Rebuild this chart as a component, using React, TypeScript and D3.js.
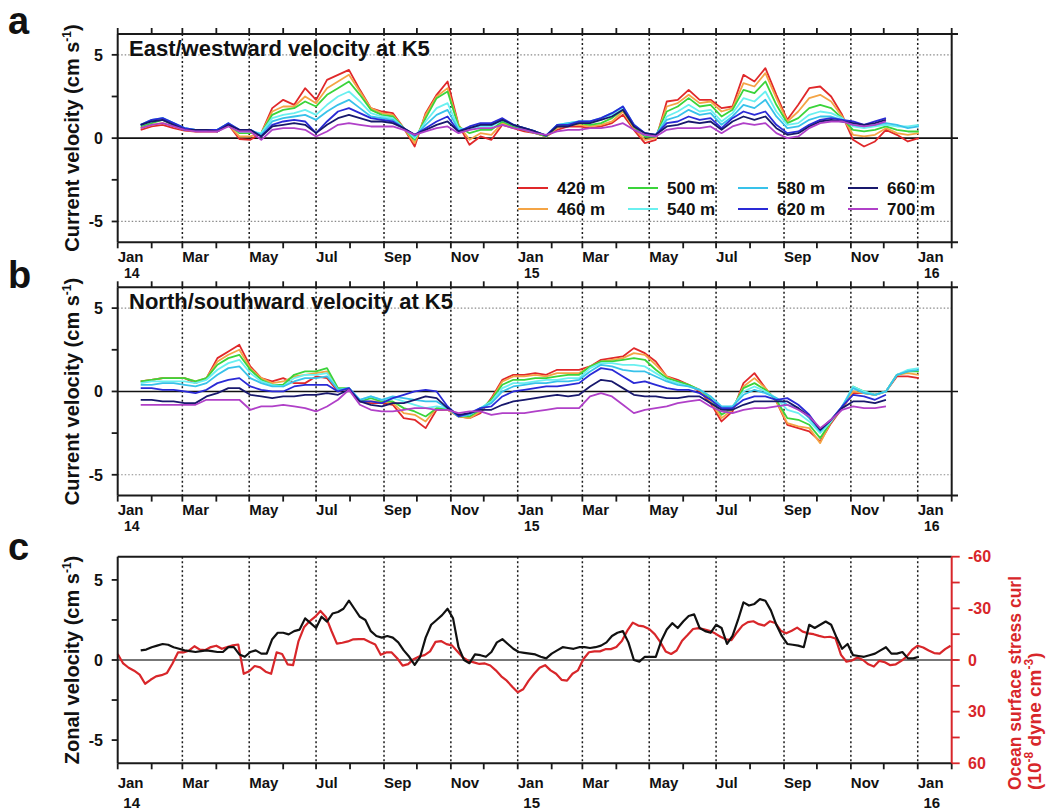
import React from "react";
import * as d3 from "d3";

// ---------- DATA ----------
const depths = ["420 m", "460 m", "500 m", "540 m", "580 m", "620 m", "660 m", "700 m"];
const depthColors = ["#e0282a", "#f4a445", "#3ad43a", "#6af0f0", "#38c2ea", "#2a2ad6", "#18186c", "#b040c8"];

// current-meter samples (panels a, b): every 10 days starting 2014-01-22 (72 samples)
const sampleStart = new Date(2014, 0, 22);
const sampleCount = 72;
// zonal velocity samples (panel c): every 5 days starting 2014-01-22 (143 samples)
const zonalStart = new Date(2014, 0, 22);
const zonalCount = 143;
// wind stress curl samples (panel c): every 5 days starting 2014-01-01 (153 samples)
const curlStart = new Date(2014, 0, 1);
const curlCount = 153;

const N = null;

// Panel a: east/westward velocity (cm/s)
const east420 = [0.5,0.7,0.8,0.6,0.45,0.4,0.4,0.4,0.8,-0.05,-0.1,0.3,1.8,2.3,2.0,3.0,2.3,3.5,3.8,4.1,2.9,1.8,1.6,1.5,0.6,-0.5,1.5,2.6,3.4,0.8,-0.4,0.1,-0.1,0.8,0.6,0.4,0.3,0.1,0.5,0.7,0.7,0.6,0.7,0.9,1.4,0.5,-0.3,-0.1,2.2,2.3,2.9,2.3,2.3,1.8,1.9,3.8,3.4,4.2,2.6,1.1,2.0,3.0,3.1,2.5,1.4,-0.1,-0.5,-0.2,0.5,0.2,-0.2,0.0];
const east460 = [0.6,0.8,0.9,0.7,0.5,0.4,0.45,0.45,0.8,0.1,0.1,0.3,1.6,1.9,1.9,2.5,2.1,3.0,3.4,3.8,2.8,1.8,1.5,1.4,0.6,-0.3,1.4,2.5,3.0,0.8,-0.1,0.3,0.2,0.9,0.7,0.5,0.3,0.1,0.6,0.8,0.8,0.7,0.8,1.0,1.6,0.6,-0.1,0.0,1.9,2.1,2.6,2.1,2.2,1.6,1.8,3.3,3.1,3.9,2.4,1.0,1.6,2.4,2.6,2.2,1.3,0.2,0.1,0.2,0.6,0.3,0.2,0.3];
const east500 = [0.7,0.9,1.1,0.8,0.5,0.5,0.5,0.5,0.85,0.3,0.3,0.3,1.4,1.7,1.8,2.2,1.9,2.6,3.0,3.4,2.6,1.7,1.4,1.3,0.6,-0.1,1.2,2.4,2.8,0.7,0.3,0.5,0.5,1.0,0.7,0.5,0.3,0.1,0.7,0.8,0.9,0.8,0.9,1.2,1.7,0.7,0.1,0.1,1.6,1.9,2.4,1.9,2.0,1.3,1.7,2.9,2.7,3.4,2.0,0.9,1.2,1.8,2.0,1.8,1.2,0.5,0.4,0.5,0.7,0.5,0.4,0.4];
const east540 = [0.8,1.0,1.2,0.9,0.6,0.5,0.5,0.5,0.9,0.4,0.4,0.3,1.2,1.4,1.5,1.7,1.4,2.0,2.5,2.8,2.2,1.5,1.3,1.2,0.6,0.0,1.0,1.8,2.1,0.6,0.5,0.7,0.7,1.1,0.8,0.6,0.4,0.15,0.8,0.9,1.0,1.0,1.1,1.4,1.8,0.8,0.2,0.1,1.3,1.6,2.0,1.6,1.7,1.0,1.5,2.4,2.2,2.8,1.6,0.8,0.9,1.4,1.6,1.5,1.2,0.7,0.6,0.7,0.8,0.7,0.7,0.8];
const east580 = [0.8,1.1,1.2,0.9,0.6,0.5,0.5,0.5,0.9,0.5,0.5,0.2,1.0,1.2,1.3,1.4,1.1,1.6,2.0,2.3,1.8,1.3,1.2,1.1,0.6,0.1,0.8,1.4,1.7,0.5,0.6,0.8,0.8,1.1,0.8,0.6,0.4,0.15,0.8,0.9,1.0,1.0,1.2,1.5,1.9,0.8,0.3,0.2,1.1,1.3,1.7,1.4,1.5,0.8,1.3,2.0,1.8,2.3,1.3,0.6,0.7,1.1,1.3,1.3,1.1,0.8,0.7,0.8,0.9,0.8,0.6,0.7];
const east620 = [0.8,1.1,1.2,0.9,0.6,0.5,0.5,0.5,0.9,0.5,0.5,0.1,0.8,1.0,1.1,1.0,0.3,1.0,1.6,1.8,1.5,1.2,1.1,1.0,0.6,0.2,0.6,1.0,1.3,0.4,0.7,0.9,0.9,1.2,0.8,0.6,0.4,0.15,0.8,0.8,1.0,1.0,1.2,1.5,1.9,0.8,0.3,0.2,0.9,1.0,1.3,1.1,1.2,0.6,1.2,1.6,1.4,1.6,0.8,0.3,0.4,0.8,1.1,1.2,1.1,1.0,0.8,1.0,1.2,N,N,N];
const east660 = [0.8,1.0,1.1,0.8,0.5,0.5,0.5,0.4,0.8,0.5,0.5,0.1,0.7,0.8,0.9,0.8,0.3,0.8,1.2,1.4,1.2,1.0,1.0,0.9,0.6,0.2,0.5,0.8,1.0,0.4,0.6,0.8,0.8,1.1,0.8,0.6,0.4,0.15,0.7,0.7,0.9,0.9,1.1,1.3,1.7,0.7,0.3,0.2,0.7,0.8,1.0,0.9,1.0,0.5,1.0,1.3,1.1,1.3,0.6,0.2,0.3,0.7,1.0,1.1,1.0,0.9,0.8,0.9,1.1,N,N,N];
const east700 = [0.6,0.8,0.9,0.7,0.5,0.4,0.4,0.4,0.7,0.4,0.4,-0.1,0.5,0.6,0.6,0.5,0.1,0.4,0.8,0.9,0.8,0.7,0.7,0.7,0.5,0.2,0.4,0.6,0.7,0.3,0.5,0.6,0.6,0.8,0.6,0.5,0.3,0.2,0.4,0.5,0.5,0.6,0.6,0.7,0.9,0.5,0.2,0.1,0.5,0.6,0.6,0.6,0.7,0.3,0.7,0.9,0.8,0.9,0.3,0.0,0.1,0.6,0.9,1.0,1.0,0.8,0.7,0.8,1.0,N,N,N];

// Panel b: north/southward velocity (cm/s)
const north420 = [0.6,0.7,0.8,0.8,0.8,0.5,0.8,2.0,2.4,2.8,1.5,0.8,0.6,0.8,0.5,0.5,0.9,0.8,0.0,0.2,-0.6,-0.7,-0.7,-0.8,-1.6,-1.7,-2.2,-1.1,-1.1,-1.5,-1.6,-1.3,-0.4,0.7,1.0,1.0,1.1,1.0,1.3,1.3,1.3,1.5,1.9,2.0,2.1,2.6,2.3,1.8,0.9,0.7,0.4,0.0,-0.7,-1.8,-1.2,0.5,1.1,0.2,-0.6,-2.0,-2.2,-2.4,-3.0,-1.9,-1.0,-0.1,-0.1,-0.2,0.0,0.9,0.9,0.8];
const north460 = [0.6,0.7,0.8,0.8,0.8,0.6,0.8,1.8,2.2,2.5,1.4,0.8,0.5,0.6,0.9,1.0,1.1,1.2,0.1,0.2,-0.6,-0.6,-0.6,-0.7,-1.3,-1.4,-1.8,-1.0,-1.1,-1.5,-1.6,-1.2,-0.5,0.6,0.9,0.9,1.0,0.9,1.1,1.1,1.1,1.5,1.8,1.9,2.0,2.3,2.2,1.6,0.9,0.6,0.4,0.1,-0.6,-1.6,-1.1,0.3,0.8,0.2,-0.6,-1.9,-2.1,-2.2,-3.1,-1.8,-1.0,0.0,-0.1,-0.2,0.0,1.0,1.1,1.0];
const north500 = [0.6,0.7,0.8,0.8,0.8,0.6,0.8,1.6,2.0,2.2,1.3,0.7,0.4,0.4,1.0,1.2,1.2,1.4,0.2,0.2,-0.6,-0.4,-0.6,-0.6,-1.0,-1.2,-1.5,-1.0,-1.0,-1.5,-1.5,-1.1,-0.5,0.4,0.7,0.7,0.8,0.8,0.9,1.0,1.0,1.5,1.8,1.8,1.9,2.0,1.9,1.3,0.8,0.6,0.4,0.1,-0.4,-1.4,-1.0,0.2,0.5,0.1,-0.5,-1.6,-1.7,-2.0,-2.8,-1.8,-1.0,0.3,0.0,-0.2,0.0,1.0,1.2,1.2];
const north540 = [0.5,0.6,0.6,0.6,0.6,0.5,0.7,1.3,1.7,1.9,1.1,0.6,0.4,0.3,0.8,1.0,1.0,1.1,0.1,0.2,-0.5,-0.3,-0.5,-0.4,-0.6,-0.8,-1.0,-0.9,-1.0,-1.5,-1.4,-1.0,-0.6,0.2,0.5,0.5,0.6,0.7,0.7,0.8,0.8,1.4,1.7,1.7,1.6,1.6,1.5,1.1,0.7,0.5,0.3,0.1,-0.3,-1.0,-0.9,0.0,0.3,0.0,-0.4,-1.1,-1.3,-1.8,-2.5,-1.8,-0.9,0.3,0.0,-0.2,0.0,1.0,1.3,1.4];
const north580 = [0.4,0.4,0.5,0.5,0.4,0.3,0.5,1.0,1.4,1.5,0.8,0.5,0.3,0.3,0.6,0.8,0.8,0.9,0.1,0.2,-0.5,-0.3,-0.5,-0.3,-0.4,-0.5,-0.6,-0.6,-1.0,-1.5,-1.4,-1.0,-0.7,0.0,0.3,0.4,0.5,0.5,0.6,0.6,0.7,1.2,1.6,1.5,1.3,1.2,1.2,0.9,0.6,0.4,0.3,0.1,-0.3,-0.9,-0.9,-0.2,0.1,-0.1,-0.4,-0.8,-1.0,-1.6,-2.4,-1.7,-0.9,0.2,-0.1,-0.2,0.0,1.0,1.2,1.3];
const north620 = [0.2,0.2,0.1,0.1,0.0,-0.1,0.1,0.5,0.7,0.8,0.3,0.1,0.0,0.0,0.3,0.4,0.4,0.4,0.0,0.2,-0.6,-0.6,-0.7,-0.4,-0.2,0.0,0.1,0.0,-0.9,-1.5,-1.3,-1.0,-0.9,-0.3,0.0,0.1,0.2,0.3,0.3,0.4,0.5,1.0,1.4,1.3,0.9,0.5,0.6,0.4,0.2,0.1,0.1,-0.1,-0.5,-1.0,-1.0,-0.5,-0.3,-0.3,-0.5,-0.4,-0.8,-1.4,-2.3,-1.7,-0.9,-0.2,-0.3,-0.5,-0.2,N,N,N];
const north660 = [-0.5,-0.5,-0.6,-0.6,-0.7,-0.7,-0.3,-0.1,0.2,0.2,-0.2,-0.3,-0.4,-0.3,-0.3,-0.2,-0.2,-0.1,-0.2,0.1,-0.6,-0.8,-0.9,-0.7,-0.7,-0.5,-0.3,-0.4,-1.0,-1.4,-1.3,-1.1,-1.1,-0.8,-0.6,-0.5,-0.4,-0.3,-0.2,-0.3,-0.2,0.3,0.7,0.6,0.2,-0.2,-0.3,-0.3,-0.4,-0.4,-0.3,-0.3,-0.7,-1.1,-1.1,-0.8,-0.6,-0.6,-0.6,-0.6,-1.0,-1.5,-2.3,-1.7,-1.0,-0.6,-0.6,-0.7,-0.5,N,N,N];
const north700 = [-0.8,-0.8,-0.8,-0.8,-0.8,-0.8,-0.5,-0.5,-0.5,-0.5,-1.1,-0.9,-0.9,-0.8,-0.9,-1.0,-1.2,-0.9,-0.5,0.1,-0.8,-1.1,-1.2,-1.2,-1.1,-1.0,-1.0,-1.1,-1.1,-1.3,-1.2,-1.2,-1.4,-1.3,-1.3,-1.3,-1.2,-1.1,-1.0,-1.0,-1.0,-0.3,-0.1,-0.3,-0.8,-1.3,-1.1,-1.0,-0.9,-0.7,-0.6,-0.5,-0.9,-1.2,-1.3,-1.1,-1.0,-1.0,-0.9,-0.8,-1.1,-1.5,-2.2,-1.7,-1.1,-0.9,-1.0,-1.0,-0.9,N,N,N];

// Panel c: zonal velocity (cm/s, black)
const zonalVelocity = [
  0.6,0.65,0.8,0.9,1.0,0.95,0.8,0.7,0.6,0.55,
  0.5,0.55,0.6,0.55,0.5,0.5,0.8,0.8,0.35,0.2,
  0.5,0.6,0.4,0.4,1.3,1.7,1.7,1.6,1.8,1.9,
  2.6,2.3,2.0,2.7,2.4,2.9,3.0,3.2,3.7,3.2,
  2.7,2.5,1.8,1.5,1.4,1.5,1.4,1.1,0.6,0.2,
  -0.3,0.2,1.4,2.2,2.5,2.8,3.2,2.6,0.8,0.0,
  -0.2,0.35,0.3,0.2,0.5,1.1,1.3,1.0,0.7,0.5,
  0.45,0.4,0.35,0.2,0.1,0.4,0.6,0.8,0.75,0.7,
  0.8,0.8,0.75,0.8,0.9,1.1,1.5,1.7,1.8,1.1,
  0.0,-0.1,0.2,0.2,0.2,1.2,1.9,2.3,2.0,2.4,
  2.75,2.85,2.0,1.8,1.7,2.2,2.0,1.0,1.5,2.5,
  3.6,3.4,3.5,3.8,3.7,3.1,2.2,1.5,1.0,0.95,
  0.9,0.8,2.2,2.0,2.2,2.4,2.2,1.4,0.7,1.0,
  0.3,0.25,0.2,0.3,0.4,0.6,0.8,0.4,0.4,0.5,
  0.1,0.1,0.2
];
// Panel c: ocean surface stress curl (1e-8 dyne/cm^3, red, right axis reversed)
const stressCurl = [
  -3.5,2.0,4.5,6.2,8.5,13.8,11.5,9.5,8.8,7.5,
  2.0,-4.4,-4.4,-5.4,-8.0,-6.0,-5.8,-7.5,-8.3,-6.5,
  -7.5,-8.5,-9.0,8.0,6.5,3.5,4.3,6.8,8.0,-4.4,
  -3.5,2.5,3.0,-11,-19,-22.5,-25,-28.5,-25,-17,
  -9.5,-10,-10.8,-12,-12.1,-12.1,-10.5,-9,-3,-4.4,
  -4.4,-1,3.3,2.4,-0.5,-2,-2.8,-5,-10.5,-11,
  -9.2,-8.5,-5,-1.5,0.6,1.4,2.3,2.0,3.2,6,
  9.5,12,15.5,
  18.7,17,12,8,4.5,3,6,8,11.5,12,8,
  6,-0.6,-4.5,-5,-5,-6.3,-6.3,-7.5,-11,-17,
  -21.7,-20,-19.5,-18,-15,-10.5,-5,-3.5,-5.5,-11.2,
  -14.5,-18,-18.5,-17.8,-17,-15.5,-13.5,-12,-11.5,-16,
  -20,-22,-22.5,-20.8,-20,-22.5,-21.5,-17,-15.5,-17,
  -18.8,-16.5,-15.5,-15,-14,-13.2,-13.5,-12.5,-3,1.0,
  0.3,-1.5,0,2.5,3.8,0.5,1.3,3,2.5,0.5,
  -2,-6,-8.3,-7.3,-5.5,-4,-3.7,-6.3,-8.3
];

const eastSeries = [east420, east460, east500, east540, east580, east620, east660, east700];
const northSeries = [north420, north460, north500, north540, north580, north620, north660, north700];

const leftTicks = [-5, -2.5, 0, 2.5, 5];
const leftTickLabels = [-5, 0, 5];
const rightTicks = [-60, -45, -30, -15, 0, 15, 30, 45, 60];
const rightTickLabels = [-60, -30, 0, 30, 60];

// ---------- LAYOUT ----------
const FONT = "'Liberation Sans', Arial, Helvetica, sans-serif";
const X0 = 117.7;
const X1 = 951.7;
const XEXT = 958;
const RED = "#d8262a";

const sampleDates = d3.range(sampleCount).map((i) => d3.timeDay.offset(sampleStart, i * 10));
const zonalDates = d3.range(zonalCount).map((i) => d3.timeDay.offset(zonalStart, i * 5));
const curlDates = d3.range(curlCount).map((i) => d3.timeDay.offset(curlStart, i * 5));

const x = d3.scaleTime().domain([new Date(2014, 0, 1), new Date(2016, 1, 1)]).range([X0, X1]);
const months = d3.timeMonth.range(new Date(2014, 0, 1), new Date(2016, 1, 2));
const labelMonths = months.filter((m) => m.getMonth() % 2 === 0 && m <= new Date(2016, 0, 1));
const fmtMonth = d3.timeFormat("%b");
const fmtYear = d3.timeFormat("%y");

type FrameProps = {
  top: number;
  bottom: number;
  domain: number;
  topTicks: boolean;
  hDotted: boolean;
  yearGap: number;
  monthGap: number;
  yearSize: number;
  zeroColor: string;
  rightColor: string;
  children?: React.ReactNode;
};

function Frame({ top, bottom, domain, topTicks, hDotted, yearGap, monthGap, yearSize, zeroColor, rightColor, children }: FrameProps) {
  const y = d3.scaleLinear().domain([-domain, domain]).range([bottom, top]);
  return (
    <g>
      {hDotted &&
        [-5, 5].map((v) => (
          <line key={"h" + v} x1={X0} x2={X1} y1={y(v)} y2={y(v)} stroke="#8a8a8a" strokeWidth={1.2} strokeDasharray="1.5,2" />
        ))}
      {labelMonths.slice(1).map((m, i) => (
        <line key={"v" + i} x1={x(m)} x2={x(m)} y1={top} y2={bottom} stroke="#1a1a1a" strokeWidth={1.5} strokeDasharray="2,2.5" />
      ))}
      <line x1={X0} x2={XEXT} y1={y(0)} y2={y(0)} stroke={zeroColor} strokeWidth={1.6} />
      {children}
      <line x1={X0} x2={topTicks ? XEXT : X1} y1={top} y2={top} stroke="#1a1a1a" strokeWidth={2} />
      <line x1={X0} x2={topTicks ? XEXT : X1} y1={bottom} y2={bottom} stroke="#1a1a1a" strokeWidth={2} />
      <line x1={X0} x2={X0} y1={top} y2={bottom} stroke="#1a1a1a" strokeWidth={2} />
      <line x1={X1} x2={X1} y1={top} y2={bottom} stroke={rightColor} strokeWidth={2} />
      {months.map((m, i) => (
        <g key={"t" + i}>
          <line x1={x(m)} x2={x(m)} y1={bottom} y2={bottom + 6} stroke="#1a1a1a" strokeWidth={1.8} />
          {topTicks && <line x1={x(m)} x2={x(m)} y1={top} y2={top - 6} stroke="#1a1a1a" strokeWidth={1.8} />}
        </g>
      ))}
      {labelMonths.map((m, i) => (
        <g key={"l" + i} fontFamily={FONT} fontWeight="bold" fill="#111">
          <text x={x(m)} y={bottom + monthGap} fontSize={15}>
            {fmtMonth(m)}
          </text>
          {m.getMonth() === 0 && (
            <text x={x(m) + 14} y={bottom + yearGap} fontSize={yearSize} textAnchor="middle">
              {fmtYear(m)}
            </text>
          )}
        </g>
      ))}
      {leftTicks.map((v) => (
        <line key={"lt" + v} x1={X0 - 6} x2={X0} y1={y(v)} y2={y(v)} stroke="#1a1a1a" strokeWidth={1.8} />
      ))}
      {leftTickLabels.map((v) => (
        <text key={"ll" + v} x={103} y={y(v)} dy="0.36em" textAnchor="end" fontFamily={FONT} fontWeight="bold" fontSize={16} fill="#111">
          {v}
        </text>
      ))}
    </g>
  );
}

function SeriesLines({ series, y }: { series: (number | null)[][]; y: d3.ScaleLinear<number, number> }) {
  const line = d3
    .line<number | null>()
    .defined((v) => v != null)
    .x((_, i) => x(sampleDates[i]))
    .y((v) => y(v as number));
  return (
    <g>
      {series.map((s, k) => (
        <path key={k} d={line(s) || ""} fill="none" stroke={depthColors[k]} strokeWidth={1.8} strokeLinejoin="round" />
      ))}
    </g>
  );
}

function YTitle({ cx, cy, label }: { cx: number; cy: number; label: string }) {
  return (
    <text transform={`translate(${cx},${cy}) rotate(-90)`} textAnchor="middle" fontFamily={FONT} fontWeight="bold" fontSize={20} fill="#111">
      {label} (cm s<tspan dy={-8} fontSize={12}>-1</tspan>
      <tspan dy={8}>)</tspan>
    </text>
  );
}

export default function App() {
  const aTop = 34, aBot = 242.3;
  const bTop = 287.3, bBot = 495.6;
  const cTop = 556.7, cBot = 763.3;
  const ya = d3.scaleLinear().domain([-6.25, 6.25]).range([aBot, aTop]);
  const yb = d3.scaleLinear().domain([-6.25, 6.25]).range([bBot, bTop]);
  const yc = d3.scaleLinear().domain([-6.45, 6.45]).range([cBot, cTop]);
  const ycr = d3.scaleLinear().domain([60, -60]).range([cBot, cTop]);

  const blackLine = d3
    .line<number>()
    .x((_, i) => x(zonalDates[i]))
    .y((v) => yc(v));
  const redLine = d3
    .line<number>()
    .x((_, i) => x(curlDates[i]))
    .y((v) => ycr(v));

  const legendCols = [518, 628, 738, 848];
  const legendRows = [188, 209];

  return (
    <svg width={1050} height={811} style={{ position: "absolute", left: 0, top: 0, background: "#fff" }}>
      <rect width={1050} height={811} fill="#fff" />
      {/* Panel a */}
      <Frame top={aTop} bottom={aBot} domain={6.25} topTicks hDotted yearGap={35.5} monthGap={19.5} yearSize={14} zeroColor="#111" rightColor="#1a1a1a">
        <SeriesLines series={eastSeries} y={ya} />
      </Frame>
      <text x={129} y={55.5} fontFamily={FONT} fontWeight="bold" fontSize={22} fill="#111">East/westward velocity at K5</text>
      <YTitle cx={79} cy={138} label="Current velocity" />
      <text x={8} y={34} fontFamily={FONT} fontWeight="bold" fontSize={38} fill="#111">a</text>
      {depths.map((d, k) => {
        const col = Math.floor(k / 2);
        const row = k % 2;
        const lx = legendCols[col];
        const ly = legendRows[row];
        return (
          <g key={d}>
            <line x1={lx} x2={lx + 30} y1={ly} y2={ly} stroke={depthColors[k]} strokeWidth={2} />
            <text x={lx + 39} y={ly} dy="0.36em" fontFamily={FONT} fontWeight="bold" fontSize={17} fill="#111">{d}</text>
          </g>
        );
      })}

      {/* Panel b */}
      <Frame top={bTop} bottom={bBot} domain={6.25} topTicks hDotted yearGap={35.5} monthGap={19.5} yearSize={14} zeroColor="#111" rightColor="#1a1a1a">
        <SeriesLines series={northSeries} y={yb} />
      </Frame>
      <text x={129} y={309} fontFamily={FONT} fontWeight="bold" fontSize={22} fill="#111">North/southward velocity at K5</text>
      <YTitle cx={79} cy={391.5} label="Current velocity" />
      <text x={8} y={288} fontFamily={FONT} fontWeight="bold" fontSize={38} fill="#111">b</text>

      {/* Panel c */}
      <Frame top={cTop} bottom={cBot} domain={6.45} topTicks={false} hDotted={false} yearGap={45} monthGap={24.5} yearSize={15} zeroColor="#4a4a4a" rightColor={RED}>
        <path d={redLine(stressCurl) || ""} fill="none" stroke={RED} strokeWidth={2.2} strokeLinejoin="round" />
        <path d={blackLine(zonalVelocity) || ""} fill="none" stroke="#111" strokeWidth={2.2} strokeLinejoin="round" />
      </Frame>
      {rightTicks.map((v) => (
        <line key={"rt" + v} x1={X1} x2={X1 + 8} y1={ycr(v)} y2={ycr(v)} stroke={RED} strokeWidth={1.8} />
      ))}
      {rightTickLabels.map((v) => (
        <text key={"rl" + v} x={968} y={ycr(v)} dy="0.36em" fontFamily={FONT} fontWeight="bold" fontSize={16} fill={RED}>
          {v}
        </text>
      ))}
      <YTitle cx={79} cy={660} label="Zonal velocity" />
      <text transform="translate(1021,790) rotate(-90)" fontFamily={FONT} fontWeight="bold" fontSize={17.5} fill={RED}>
        Ocean surface stress curl
      </text>
      <text transform="translate(1041,790) rotate(-90)" fontFamily={FONT} fontWeight="bold" fontSize={19} fill={RED}>
        (10<tspan dy={-8} fontSize={12}>-8</tspan>
        <tspan dy={8}> dyne cm</tspan>
        <tspan dy={-8} fontSize={12}>-3</tspan>
        <tspan dy={8}>)</tspan>
      </text>
      <text x={8} y={560} fontFamily={FONT} fontWeight="bold" fontSize={38} fill="#111">c</text>
    </svg>
  );
}
